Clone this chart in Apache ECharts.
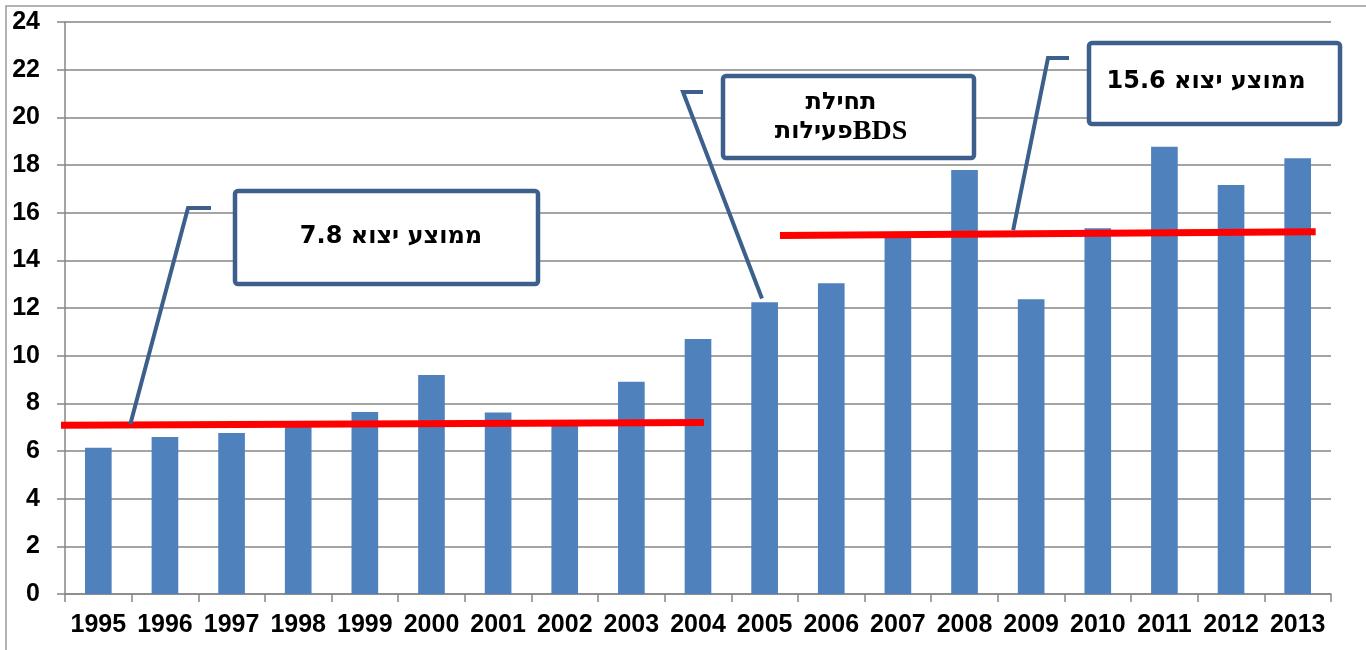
<!DOCTYPE html>
<html>
<head>
<meta charset="utf-8">
<script src="https://cdn.jsdelivr.net/npm/echarts@6/dist/echarts.min.js"></script>
<style>
  html, body { margin: 0; padding: 0; background: #fff; }
  #chart { width: 1366px; height: 650px; }
</style>
</head>
<body>
<div id="chart"></div>
<script>
// years on the category axis
const years = ['1995', '1996', '1997', '1998', '1999', '2000', '2001', '2002', '2003', '2004',
  '2005', '2006', '2007', '2008', '2009', '2010', '2011', '2012', '2013']

// export values
const exportValues = [6.14, 6.59, 6.76, 7.1, 7.64, 9.19, 7.62, 7.15, 8.91, 10.7,
  12.24, 13.04, 15.0, 17.79, 12.37, 15.35, 18.77, 17.16, 18.28]

// red average lines, [category position, value]
const avgBefore = [[-0.08, 7.08], [9.59, 7.2]]
const avgAfter = [[10.73, 15.04], [18.77, 15.2]]

// callout texts and where their leader lines point, [category position, value]
const noteTexts = ['{he|ממוצע יצוא 7.8}', '{he|תחילת}\n{he|פעילות}{lat|BDS}', '{he|ממוצע יצוא 15.6}']
const noteAnchors = [[0.98, 7.12], [10.46, 12.4], [14.23, 15.27]]

const boxColor = '#3D5F8C'
const gridColor = '#868686'
const labelFont = 'Liberation Sans'

const chart = echarts.init(document.getElementById('chart'))

chart.setOption({
  animation: false,
  backgroundColor: '#fff',
  grid: { left: 65, right: 35, top: 22, bottom: 56 },
  xAxis: [
    {
      type: 'category',
      data: years,
      axisLine: { lineStyle: { color: gridColor, width: 1.5 } },
      axisTick: { show: true, length: 8, lineStyle: { color: gridColor, width: 1.5 } },
      axisLabel: {
        interval: 0, margin: 19, color: '#000',
        fontFamily: labelFont, fontWeight: 'bold', fontSize: 25
      }
    },
    { type: 'value', min: 0, max: 19, show: false }
  ],
  yAxis: {
    type: 'value',
    min: 0,
    max: 24,
    interval: 2,
    axisLine: { show: true, lineStyle: { color: gridColor, width: 1.5 } },
    axisTick: { show: true, length: 8, lineStyle: { color: gridColor, width: 1.5 } },
    splitLine: { lineStyle: { color: gridColor, width: 1.5 } },
    axisLabel: {
      margin: 25, color: '#000',
      fontFamily: labelFont, fontWeight: 'bold', fontSize: 25
    }
  },
  series: [
    {
      type: 'bar',
      data: exportValues,
      barWidth: '40%',
      itemStyle: { color: '#4F81BD' }
    },
    {
      type: 'line', xAxisIndex: 1, data: avgBefore, clip: false,
      symbol: 'none', z: 5, lineStyle: { color: '#FF0000', width: 7 }
    },
    {
      type: 'line', xAxisIndex: 1, data: avgAfter, clip: false,
      symbol: 'none', z: 5, lineStyle: { color: '#FF0000', width: 7 }
    }
  ]
})

// callout boxes and leader lines
const boxes = [
  { x: 235, y: 191, w: 303, h: 93, tx: 391, ty: 237, hook: [211, 188, 208] },
  { x: 723, y: 76, w: 251, h: 82, tx: 841, ty: 117, hook: [703, 683, 92] },
  { x: 1089, y: 43, w: 251, h: 81, tx: 1206, ty: 82, hook: [1069, 1048, 58] }
]

const richText = {
  he: { fontFamily: 'DejaVu Sans', fontWeight: 'bold', fontSize: 24, lineHeight: 29, fill: '#000' },
  lat: { fontFamily: 'Liberation Serif', fontWeight: 'bold', fontSize: 28, lineHeight: 29, fill: '#000' }
}

const elements = [{
  type: 'rect', silent: true,
  shape: { x: 6, y: 6, width: 1400, height: 700 },
  style: { fill: 'none', stroke: '#9a9a9a', lineWidth: 1.5 }
}]

boxes.forEach((b, i) => {
  const end = chart.convertToPixel({ xAxisIndex: 1, yAxisIndex: 0 }, noteAnchors[i])
  elements.push({
    type: 'polyline', z: 10,
    shape: { points: [[b.hook[0], b.hook[2]], [b.hook[1], b.hook[2]], end] },
    style: { stroke: boxColor, lineWidth: 4, fill: 'none' }
  })
  elements.push({
    type: 'rect', z: 10,
    shape: { x: b.x, y: b.y, width: b.w, height: b.h, r: 3 },
    style: { fill: '#fff', stroke: boxColor, lineWidth: 4.5 }
  })
  elements.push({
    type: 'text', z: 11,
    style: {
      text: noteTexts[i], x: b.tx, y: b.ty, rich: richText,
      align: 'center', verticalAlign: 'middle', fill: '#000'
    }
  })
})

chart.setOption({ graphic: { elements: elements } })
</script>
</body>
</html>
